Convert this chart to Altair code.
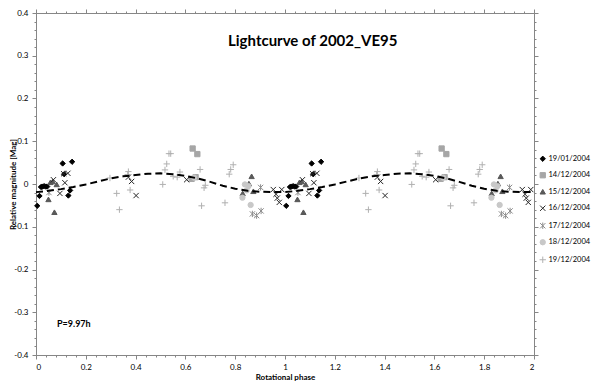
import altair as alt
import pandas as pd

# ---------------- data ----------------
series_names = ["19/01/2004", "14/12/2004", "15/12/2004", "16/12/2004",
                "17/12/2004", "18/12/2004", "19/12/2004"]

phase_1901 = [0.005, 0.014, 0.020, 0.026, 0.032, 0.039, 0.045, 0.107, 0.145, 0.113, 0.130, 0.137]
mag_1901 = [-0.051, -0.028, -0.007, -0.006, -0.005, -0.006, -0.006, 0.048, 0.052, 0.023, -0.027, -0.015]

phase_1412 = [0.629, 0.648, 0.625, 0.641]
mag_1412 = [0.083, 0.070, 0.012, 0.016]

phase_1512 = [0.050, 0.058, 0.067, 0.083, 0.074, 0.830, 0.855, 0.866, 0.873]
mag_1512 = [-0.036, 0.004, 0.006, -0.001, -0.066, -0.022, 0.001, 0.018, -0.017]

phase_1612 = [0.070, 0.096, 0.116, 0.111, 0.128, 0.371, 0.384, 0.402, 0.605,
              0.953, 0.964, 0.969, 0.977, 0.987]
mag_1612 = [0.010, -0.022, 0.003, 0.024, 0.025, 0.016, 0.006, -0.027, 0.010,
            -0.013, -0.024, -0.033, -0.043, -0.013]

phase_1712 = [0.052, 0.869, 0.886, 0.904, 0.902]
mag_1712 = [-0.020, -0.070, -0.074, -0.063, -0.008]

phase_1812 = [0.635, 0.829, 0.839, 0.846, 0.853, 0.862]
mag_1812 = [0.015, -0.032, -0.001, -0.015, -0.005, -0.049]

phase_1912 = [0.297, 0.324, 0.335, 0.368, 0.371, 0.378, 0.509, 0.518, 0.525, 0.534, 0.541,
              0.551, 0.567, 0.578, 0.659, 0.675, 0.680, 0.665, 0.759, 0.776, 0.782, 0.792]
mag_1912 = [0.014, -0.022, -0.060, 0.022, 0.029, -0.014, -0.001, 0.033, 0.047, 0.071, 0.071,
            0.018, 0.016, 0.028, 0.034, -0.009, -0.003, -0.051, -0.044, 0.023, 0.034, 0.045]

curve_phase = [0.00, 0.05, 0.10, 0.15, 0.20, 0.25, 0.30, 0.35, 0.40, 0.45, 0.50,
               0.55, 0.60, 0.65, 0.70, 0.75, 0.80, 0.85, 0.90, 0.95, 1.00]
curve_mag = [-0.019, -0.016, -0.012, -0.007, -0.001, 0.006, 0.013, 0.018, 0.021, 0.024, 0.025,
             0.023, 0.019, 0.013, 0.005, -0.004, -0.011, -0.016, -0.018, -0.019, -0.019]

title_text = "Lightcurve of 2002_VE95"
period_text = "P=9.97h"
x_title = "Rotational phase"
y_title = "Relative magnitude [Mag]"

# ---------------- tables (each cycle plotted twice, as in the original) ----------------
all_phases = [phase_1901, phase_1412, phase_1512, phase_1612, phase_1712, phase_1812, phase_1912]
all_mags = [mag_1901, mag_1412, mag_1512, mag_1612, mag_1712, mag_1812, mag_1912]
rows = []
for name, ph, mg in zip(series_names, all_phases, all_mags):
    for p, m in zip(ph, mg):
        rows.append({"date": name, "phase": p, "mag": m})
        rows.append({"date": name, "phase": p + 1, "mag": m})
pts = pd.DataFrame(rows)

crows = [{"phase": p, "mag": m} for p, m in zip(curve_phase, curve_mag)]
crows += [{"phase": p + 1, "mag": m} for p, m in zip(curve_phase[1:], curve_mag[1:])]
curve = pd.DataFrame(crows)

# ---------------- styling ----------------
W, H = 498, 342
FONT = "Lato"
AX = "#868686"
xmaj = [round(0.2 * i, 1) for i in range(11)]
ymaj = [round(-0.4 + 0.1 * i, 1) for i in range(9)]
xmin = [round(0.04 * i, 2) for i in range(51)]
ymin = [round(-0.4 + 0.02 * i, 2) for i in range(41)]
xs = alt.Scale(domain=[0, 2], nice=False, zero=False)
ys = alt.Scale(domain=[-0.4, 0.4], nice=False, zero=False)
lab = "datum.value < 0 ? '-' + format(-datum.value, '~g') : format(datum.value, '~g')"

shape_range = ["diamond", "square", "triangle-up",
               "M-1,-1L1,1M-1,1L1,-1",
               "M-1,-1L1,1M-1,1L1,-1M0,-1.2L0,1.2",
               "circle",
               "M-1.2,0L1.2,0M0,-1.2L0,1.2"]
fill_range = ["#000000", "#a6a6a6", "#595959", "transparent", "transparent", "#c8c8c8", "transparent"]
stroke_range = ["#000000", "#a6a6a6", "#595959", "#262626", "#8c8c8c", "#c8c8c8", "#b0b0b0"]

leg = alt.Legend(title=None, orient="none", legendX=503, legendY=142,
                 labelFont=FONT, labelFontSize=7.5, labelColor="#000000",
                 symbolSize=28, symbolStrokeWidth=1, rowPadding=6.5, labelOffset=2)

points = alt.Chart(pts).mark_point(size=28, strokeWidth=1, opacity=1).encode(
    x=alt.X("phase:Q", scale=xs,
            axis=alt.Axis(orient="bottom", values=xmaj, labelExpr=lab, tickSize=4,
                          labelPadding=4, title=x_title, titleFont=FONT, titleFontSize=8,
                          titleFontWeight="bold", titleY=22, titleBaseline="middle",
                          labelFont=FONT, labelFontSize=8, labelColor="#000000")),
    y=alt.Y("mag:Q", scale=ys,
            axis=alt.Axis(orient="left", values=ymaj, labelExpr=lab, tickSize=4,
                          labelPadding=4, title=y_title, titleFont=FONT, titleFontSize=8,
                          titleFontWeight="bold", titleX=-23, titleY=H / 2,
                          titleBaseline="middle", titleAngle=270,
                          labelFont=FONT, labelFontSize=8, labelColor="#000000")),
    shape=alt.Shape("date:N", scale=alt.Scale(domain=series_names, range=shape_range), legend=leg),
    fill=alt.Fill("date:N", scale=alt.Scale(domain=series_names, range=fill_range), legend=leg),
    stroke=alt.Stroke("date:N", scale=alt.Scale(domain=series_names, range=stroke_range), legend=leg),
)

line = alt.Chart(curve).mark_line(color="#000000", strokeWidth=2, strokeDash=[7, 4]).encode(
    x=alt.X("phase:Q", scale=xs,
            axis=alt.Axis(orient="top", values=xmaj, labels=False, tickSize=4, title="")),
    y=alt.Y("mag:Q", scale=ys,
            axis=alt.Axis(orient="right", values=ymaj, labels=False, tickSize=4, title="")),
)

minor1 = alt.Chart(curve).mark_point(opacity=0).encode(
    x=alt.X("phase:Q", scale=xs,
            axis=alt.Axis(orient="bottom", values=xmin, labels=False, domain=False,
                          tickSize=2, title="")),
    y=alt.Y("mag:Q", scale=ys,
            axis=alt.Axis(orient="left", values=ymin, labels=False, domain=False,
                          tickSize=2, title="")),
)
minor2 = alt.Chart(curve).mark_point(opacity=0).encode(
    x=alt.X("phase:Q", scale=xs,
            axis=alt.Axis(orient="top", values=xmin, labels=False, domain=False,
                          tickSize=2, title="")),
    y=alt.Y("mag:Q", scale=ys,
            axis=alt.Axis(orient="right", values=ymin, labels=False, domain=False,
                          tickSize=2, title="")),
)

title = alt.Chart(pd.DataFrame({"t": [title_text]})).mark_text(
    font=FONT, fontSize=15, fontWeight="bold", align="left", baseline="alphabetic",
    color="#000000").encode(text="t:N", x=alt.value(192), y=alt.value(33))

period = alt.Chart(pd.DataFrame({"t": [period_text]})).mark_text(
    font=FONT, fontSize=9, fontWeight="bold", align="left", baseline="alphabetic",
    color="#000000").encode(text="t:N", x=alt.value(21), y=alt.value(314))

chart = alt.layer(points, line, minor1, minor2, title, period).resolve_axis(
    x="independent", y="independent"
).properties(
    width=W, height=H,
    autosize=alt.AutoSizeParams(type="none"),
    padding={"left": 28, "top": 5, "right": 58, "bottom": 26},
).configure_view(stroke=None).configure_axis(
    domainColor=AX, tickColor=AX, grid=False
)

chart.save("out.html", embed_options={"renderer": "svg", "actions": False})
